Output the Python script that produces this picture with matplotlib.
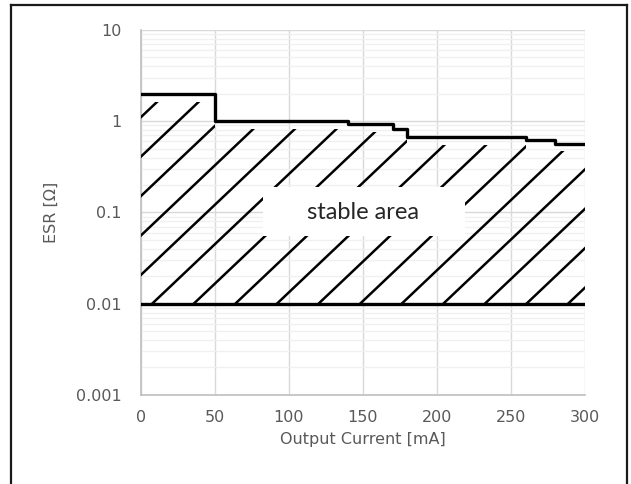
import numpy as np
import matplotlib
matplotlib.use("Agg")
import matplotlib.pyplot as plt
from matplotlib.lines import Line2D
from matplotlib.patches import Rectangle
from matplotlib.ticker import FixedLocator, FixedFormatter, LogLocator, NullFormatter

# stability boundary
current_ma = [0, 50, 140, 170, 180, 260, 280, 300]
esr_max = [2.0, 1.0, 0.93, 0.82, 0.67, 0.62, 0.57, 0.57]
esr_min = [0.01, 0.01, 0.01, 0.01, 0.01, 0.01, 0.01, 0.01]

x_ticks = [0, 50, 100, 150, 200, 250, 300]
y_ticks = [0.001, 0.01, 0.1, 1, 10]
y_tick_labels = ["0.001", "0.01", "0.1", "1", "10"]

grey_txt = "#595959"

fig = plt.figure(figsize=(6.31, 4.84), dpi=100)
ax = fig.add_axes([0.2235, 0.184, 0.7035, 0.754])

ax.set_yscale("log")
ax.set_xlim(0, 300)
ax.set_ylim(0.001, 10)

ax.xaxis.set_major_locator(FixedLocator(x_ticks))
ax.yaxis.set_major_locator(FixedLocator(y_ticks))
ax.yaxis.set_major_formatter(FixedFormatter(y_tick_labels))
ax.yaxis.set_minor_locator(LogLocator(base=10, subs=np.arange(2, 10)))
ax.yaxis.set_minor_formatter(NullFormatter())

ax.grid(True, which="major", color="#d9d9d9", lw=1.0)
ax.grid(True, which="minor", axis="y", color="#f0f0f0", lw=1.0)
ax.set_axisbelow(True)

for s in ["top", "right"]:
    ax.spines[s].set_visible(False)
for s in ["left", "bottom"]:
    ax.spines[s].set_color("#bfbfbf")
    ax.spines[s].set_linewidth(1.2)

ax.tick_params(which="both", length=0)
ax.tick_params(axis="x", pad=11, labelsize=11.5, labelcolor=grey_txt)
ax.tick_params(axis="y", pad=14, labelsize=11.5, labelcolor=grey_txt)

ax.set_xlabel("Output Current [mA]", fontsize=11.5, color=grey_txt, labelpad=5)
ax.set_ylabel("ESR [Ω]", fontsize=11.5, color=grey_txt, labelpad=12)

# boundary lines
ax.plot(current_ma, esr_max, drawstyle="steps-post", color="black", lw=2.4, zorder=5)
ax.plot(current_ma, esr_min, color="black", lw=2.4, zorder=5)

# clip region for the hatch (a bit under the top line)
clip_top = [v * 0.82 for v in esr_max]
region = ax.fill_between(current_ma, esr_min, clip_top, step="post",
                         facecolor="none", edgecolor="none")
clip_path = region.get_paths()[0]

# diagonal hatch lines, ~42 px apart, drawn in axes coordinates
w_px, h_px = 444.0, 365.0
run = 385.0 / w_px      # x shift (axes units) over full height
step = 41.6 / w_px
x0 = 14.0 / w_px - 0.2575 * run
for k in range(-12, 14):
    c = x0 + k * step
    ln = Line2D([c, c + run], [0, 1], transform=ax.transAxes,
                color="black", lw=1.8, zorder=3)
    ax.add_line(ln)
    ln.set_clip_path(clip_path, ax.transData)

# white label box
ax.add_patch(Rectangle((0.275, 0.436), 0.455, 0.134, transform=ax.transAxes,
                       facecolor="white", edgecolor="none", zorder=4))
ax.text(150, 0.1, "stable area", ha="center", va="center", fontsize=17,
        family="Lato", color="#262626", zorder=6)

# outer frame (bottom edge is cut off)
fw, fh = 631.0, 484.0
for xs, ys in [([11, 11], [5, 484]), ([11, 627], [5, 5]), ([627, 627], [5, 484])]:
    fig.add_artist(Line2D([x / fw for x in xs], [1 - y / fh for y in ys],
                          transform=fig.transFigure, color="#1a1a1a", lw=1.6))

fig.savefig("out.png", dpi=100)
